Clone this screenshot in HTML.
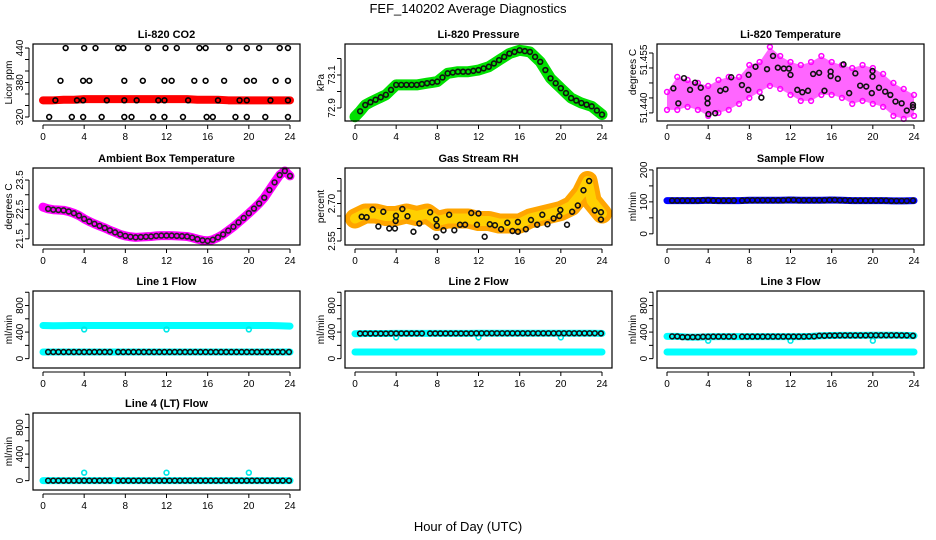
<!DOCTYPE html>
<html><head><meta charset="utf-8">
<style>
html,body{margin:0;padding:0;background:#fff;}
svg{display:block;font-family:"Liberation Sans",Arial,sans-serif;}
</style></head>
<body>
<svg id="chart" width="936" height="540" viewBox="0 0 936 540">
<text x="468" y="13" text-anchor="middle" font-size="13">FEF_140202  Average Diagnostics</text>
<text x="468" y="531" text-anchor="middle" font-size="13">Hour of Day (UTC)</text>
</svg>
<script>
// ---------- data ----------
const xTicks = [0,4,8,12,16,20,24];
// CO2
const co2Band = [349,349,350,350,351,351,351,351,351,351,351,351,351,351,351,350,350,350,349,349,349,349,349,349,349];
const co2T440 = [2.2,4,5.1,7.3,7.8,10.2,11.9,13,15.2,15.8,18.1,19.8,21,23,23.8];
const co2T383 = [1.7,3.9,4.5,7.9,9.7,11.8,12.5,14.7,15.8,17.6,19.8,20.5,22.6,23.8];
const co2T349 = [1.2,3.3,3.9,6.2,7.9,9.1,11.2,11.8,14.1,17,19.1,19.8,22.1,23.8];
const co2T320 = [0.6,2.8,3.9,5.7,7.9,8.6,10.7,11.8,13.6,15.9,16.5,18.7,19.8,21.6,23.8];
// Pressure (half-hourly)
const pressure = [72.847,72.88,72.918,72.935,72.95,72.965,72.98,73.01,73.04,73.04,73.04,73.04,73.04,73.045,73.05,73.055,73.06,73.085,73.11,73.115,73.12,73.12,73.12,73.125,73.13,73.14,73.15,73.17,73.19,73.21,73.23,73.24,73.25,73.245,73.24,73.21,73.18,73.13,73.08,73.05,73.02,72.99,72.96,72.945,72.93,72.92,72.91,72.885,72.86];
// Li-820 temperature
const tempLo = [51.441,51.441,51.442,51.441,51.439,51.440,51.441,51.443,51.445,51.447,51.449,51.448,51.446,51.444,51.444,51.446,51.446,51.445,51.443,51.444,51.443,51.442,51.439,51.438,51.439];
const tempHi = [51.447,51.452,51.451,51.450,51.449,51.451,51.452,51.452,51.456,51.457,51.462,51.459,51.457,51.456,51.457,51.459,51.457,51.456,51.455,51.456,51.455,51.453,51.450,51.448,51.446];
const tempPtT = [0.62,1.1,1.65,2.24,2.73,3.28,3.94,3.94,4.03,4.68,5.17,5.69,6.24,7.28,7.93,7.9,8.6,9.17,9.72,10.3,10.77,11.35,11.85,12.0,12.66,13.15,13.7,14.2,14.78,15.3,15.9,15.9,16.6,17.15,17.7,18.3,18.77,19.36,19.9,19.97,19.97,20.6,21.2,21.7,22.2,22.8,23.3,23.9,23.9];
const tempPtV = [51.4482,51.4432,51.4516,51.4477,51.4501,51.4484,51.4449,51.4432,51.4396,51.4399,51.4474,51.4479,51.4519,51.4493,51.4527,51.4477,51.4554,51.4451,51.4546,51.4590,51.4551,51.4548,51.4548,51.4527,51.4477,51.4469,51.4474,51.4530,51.4534,51.4474,51.4523,51.4538,51.4514,51.4562,51.4466,51.4532,51.4491,51.4488,51.4466,51.4540,51.4521,51.4484,51.4471,51.4460,51.4438,51.4432,51.4408,51.4419,51.4427];
// Ambient box temperature (half-hourly)
const ambient = [22.58,22.52,22.49,22.48,22.47,22.43,22.37,22.29,22.18,22.09,22.01,21.94,21.87,21.79,21.72,21.65,21.60,21.57,21.55,21.56,21.57,21.58,21.60,21.61,21.61,21.61,21.60,21.59,21.58,21.54,21.49,21.45,21.43,21.47,21.55,21.65,21.78,21.91,22.06,22.21,22.37,22.53,22.70,22.90,23.16,23.42,23.67,23.81,23.64];
// Gas stream RH
const rhT = [0,1,2,3,4,5,6,7,8,9,10,11,12,13,14,15,16,17,18,19,20,21,22,22.6,23,24];
const rhMid = [2.64,2.66,2.66,2.65,2.65,2.66,2.65,2.66,2.63,2.64,2.64,2.64,2.63,2.63,2.62,2.62,2.62,2.64,2.65,2.66,2.67,2.69,2.74,2.79,2.71,2.66];
const rhPtT = [0.65,1.13,1.72,2.27,2.75,3.33,3.88,3.98,3.95,4.6,5.1,6.25,5.68,7.3,7.89,7.95,7.89,8.6,9.15,9.65,10.2,10.7,11.3,11.85,12.0,12.6,13.1,13.6,14.2,14.8,15.3,15.83,15.83,16.6,17.1,17.7,18.2,18.7,19.3,19.85,19.95,20.6,21.1,21.65,22.2,22.75,23.3,23.9,23.9];
const rhPtV = [2.647,2.645,2.676,2.608,2.667,2.60,2.60,2.651,2.63,2.678,2.649,2.62,2.587,2.665,2.636,2.611,2.566,2.593,2.655,2.593,2.615,2.615,2.662,2.615,2.66,2.567,2.617,2.613,2.597,2.623,2.590,2.626,2.587,2.597,2.634,2.615,2.655,2.617,2.640,2.65,2.674,2.615,2.667,2.692,2.753,2.790,2.672,2.665,2.636];
// Flows
const flowCircT = [0.5,1,1.5,2,2.5,3,3.5,4,4.5,5,5.5,6,6.5,7.3,7.8,8.3,8.8,9.3,9.8,10.3,10.8,11.3,11.8,12.3,12.8,13.3,13.8,14.3,14.8,15.3,15.8,16.3,16.8,17.3,17.8,18.3,18.8,19.3,19.8,20.3,20.8,21.3,21.8,22.3,22.8,23.3,23.9];
const sampleFlow = [104,104,104,104,105,104,104,104,105,105,105,105,106,105,105,105,106,105,104,104,104,104,103,103,104];
const line1Hi = [500,495,498,500,500,500,500,500,500,500,500,500,500,500,500,500,500,500,500,500,500,500,500,495,490];
const line1Lo = [100,100,100,100,100,100,100,100,100,100,100,100,100,100,100,100,100,100,100,100,100,100,100,100,100];
const line2Hi = [375,378,378,378,380,380,380,380,380,380,380,380,382,382,382,382,382,382,382,382,382,382,382,382,380];
const line2Lo = [100,100,100,100,100,100,100,100,100,100,100,100,100,100,100,100,100,100,100,100,100,100,100,100,100];
const line3Hi = [335,335,325,325,330,332,332,332,332,332,332,332,332,332,335,345,348,350,350,350,352,352,352,350,345];
const line3Lo = [100,100,100,100,100,100,100,100,100,100,100,100,100,100,100,100,100,100,100,100,100,100,100,100,100];
const line4 = [0,0,0,0,0,0,0,0,0,0,0,0,0,0,0,0,0,0,0,0,0,0,0,0,0];
const dipT = [4,12,20];
const line1Dip = [440,440,440];
const line2Dip = [320,320,320];
const line3Dip = [270,270,270];
const line4Dip = [120,120,120];

// ---------- layout ----------
const NS = "http://www.w3.org/2000/svg";
const svg = document.getElementById('chart');
const colLeft = [33,345,657], boxW = 267, rowTop = [44,168,291,413], boxH = 77;

function mk(tag, parent){ const e = document.createElementNS(NS, tag); parent.appendChild(e); return e; }

function panel(col, row, name, title, ylab, ymin, ymax, ticks, labels, ylabY){
  const L = colLeft[col], T = rowTop[row], R = L + boxW, B = T + boxH;
  const g = mk('g', svg);
  
  
  const sx = h => L + 10 + h * (boxW - 20) / 24;
  const sy = v => B - (v - ymin) / (ymax - ymin) * boxH;
  const data = mk('g', g);
  
  
  const box = mk('rect', g);
  box.setAttribute('x', L); box.setAttribute('y', T); box.setAttribute('width', boxW); box.setAttribute('height', boxH);
  box.setAttribute('fill', 'none'); box.setAttribute('stroke', '#000'); box.setAttribute('stroke-width', '1.2');
  
  
  const t = mk('text', g);
  t.textContent = title;
  t.setAttribute('x', (L + R) / 2); t.setAttribute('y', T - 6); t.setAttribute('text-anchor', 'middle');
  t.setAttribute('font-size', '11'); t.setAttribute('font-weight', 'bold');
  
  
  const yl = mk('text', g);
  yl.textContent = ylab;
  yl.setAttribute('transform', `translate(${L - 21},${ylabY || (T + B) / 2}) rotate(-90)`);
  yl.setAttribute('text-anchor', 'middle'); yl.setAttribute('font-size', '10');
  
  
  // x axis
  const xa = mk('g', g);
  
  
  const xl = mk('line', xa);
  xl.setAttribute('x1', sx(0)); xl.setAttribute('x2', sx(24)); xl.setAttribute('y1', B + 4); xl.setAttribute('y2', B + 4); xl.setAttribute('stroke', '#000');
  xTicks.forEach(h => {
    const tk = mk('line', xa);
    tk.setAttribute('x1', sx(h)); tk.setAttribute('x2', sx(h)); tk.setAttribute('y1', B + 4); tk.setAttribute('y2', B + 8); tk.setAttribute('stroke', '#000');
    const lb = mk('text', xa);
    lb.textContent = h;
    lb.setAttribute('x', sx(h)); lb.setAttribute('y', B + 19); lb.setAttribute('text-anchor', 'middle'); lb.setAttribute('font-size', '10');
    
    
  });
  // y axis
  const ya = mk('g', g);
  
  
  const yln = mk('line', ya);
  yln.setAttribute('x1', L - 4); yln.setAttribute('x2', L - 4); yln.setAttribute('y1', sy(ticks[0])); yln.setAttribute('y2', sy(ticks[ticks.length - 1])); yln.setAttribute('stroke', '#000');
  ticks.forEach(v => {
    const tk = mk('line', ya);
    tk.setAttribute('x1', L - 4); tk.setAttribute('x2', L - 8); tk.setAttribute('y1', sy(v)); tk.setAttribute('y2', sy(v)); tk.setAttribute('stroke', '#000');
  });
  labels.forEach(([v, s]) => {
    const lb = mk('text', ya);
    lb.textContent = s;
    lb.setAttribute('transform', `translate(${L - 10},${sy(v)}) rotate(-90)`);
    lb.setAttribute('text-anchor', 'middle'); lb.setAttribute('font-size', '10');
    
    
  });
  return {sx, sy, g: data, L, R, T, B};
}

function band(p, ts, vs, color, width, nm){
  const pl = mk('polyline', p.g);
  pl.setAttribute('points', ts.map((t, i) => p.sx(t) + ',' + p.sy(vs[i])).join(' '));
  pl.setAttribute('fill', 'none'); pl.setAttribute('stroke', color); pl.setAttribute('stroke-width', width);
  pl.setAttribute('stroke-linecap', 'round'); pl.setAttribute('stroke-linejoin', 'round');
  
  
}
function circles(p, ts, vs, color, nm, r, sw){
  ts.forEach((t, i) => {
    const c = mk('circle', p.g);
    c.setAttribute('cx', p.sx(t)); c.setAttribute('cy', p.sy(vs[i]));
    c.setAttribute('r', r || 2.4); c.setAttribute('fill', 'none'); c.setAttribute('stroke', color); c.setAttribute('stroke-width', sw || 1.6);
    
    
  });
}
const hours = Array.from({length: 25}, (_, i) => i);
const halfHours = Array.from({length: 49}, (_, i) => i * 0.5);
const fill = (arr, v) => arr.map(() => v);
const atHour = (arr, ts) => ts.map(t => arr[Math.round(t)]);

// ---- CO2
let p = panel(0, 0, 'co2', 'Li-820 CO2', 'Licor ppm', 313, 447, [320,340,360,380,400,420,440], [[320,'320'],[380,'380'],[440,'440']]);
band(p, hours, co2Band, '#ff0000', 8, 'co2-band');
circles(p, co2T440, fill(co2T440, 440), '#000', 'co2-point');
circles(p, co2T383, fill(co2T383, 383), '#000', 'co2-point');
circles(p, co2T349, fill(co2T349, 349), '#000', 'co2-point');
circles(p, co2T320, fill(co2T320, 320), '#000', 'co2-point');

// ---- Pressure
p = panel(1, 0, 'pressure', 'Li-820 Pressure', 'kPa', 72.821, 73.288, [72.9,73.0,73.1,73.2], [[72.9,'72.9'],[73.1,'73.1']]);
band(p, halfHours, pressure, '#00e000', 11, 'pressure-band');
circles(p, halfHours.slice(1), pressure.slice(1), '#111', 'pressure-point');

// ---- Li-820 Temperature
p = panel(2, 0, 'li820-temp', 'Li-820 Temperature', 'degrees C', 51.4373, 51.463, [51.440,51.445,51.450,51.455,51.460], [[51.4417,'51.440'],[51.4577,'51.455']], 72);
{
  const poly = mk('polygon', p.g);
  poly.setAttribute('points', hours.map((h, i) => p.sx(h) + ',' + p.sy(tempHi[i])).concat(hours.slice().reverse().map(h => p.sx(h) + ',' + p.sy(tempLo[h]))).join(' '));
  poly.setAttribute('fill', '#ff00ff'); poly.setAttribute('fill-opacity', '0.6');
  
  
}
circles(p, hours, tempHi, '#ff00ff', 'temperature-magenta-point', 2.4, 1.5);
circles(p, hours, tempLo, '#ff00ff', 'temperature-magenta-point', 2.4, 1.5);
circles(p, tempPtT, tempPtV, '#111', 'temperature-point');

// ---- Ambient
p = panel(0, 1, 'ambient', 'Ambient Box Temperature', 'degrees C', 21.29, 23.91, [21.5,22,22.5,23,23.5], [[21.5,'21.5'],[22.5,'22.5'],[23.5,'23.5']]);
band(p, halfHours, ambient, '#ff00ff', 9, 'ambient-band');
circles(p, halfHours.slice(1), ambient.slice(1), '#222', 'ambient-point');

// ---- Gas stream RH
p = panel(1, 1, 'gas-rh', 'Gas Stream RH', 'percent', 2.534, 2.842, [2.55,2.60,2.65,2.70,2.75,2.80], [[2.55,'2.55'],[2.70,'2.70']]);
band(p, rhT, rhMid, '#ffa500', 20, 'rh-band');
band(p, rhT, rhMid, '#ffd000', 10, 'rh-band-core');
circles(p, rhPtT, rhPtV, '#111', 'rh-point');

// ---- Sample flow
p = panel(2, 1, 'sample-flow', 'Sample Flow', 'ml/min', -35, 206, [0,50,100,150,200], [[0,'0'],[100,'100'],[200,'200']]);
band(p, hours, sampleFlow, '#0000ff', 7, 'sample-flow-band');
circles(p, flowCircT, atHour(sampleFlow, flowCircT), '#111', 'sample-flow-point');

const flowTicks = [0,200,400,600,800,1000], flowLabels = [[0,'0'],[400,'400'],[800,'800']];
// ---- Line 1
p = panel(0, 2, 'line1', 'Line 1 Flow', 'ml/min', -141, 1019, flowTicks, flowLabels);
band(p, hours, line1Hi, '#00ffff', 7, 'line1-upper-band');
band(p, hours, line1Lo, '#00ffff', 7, 'line1-lower-band');
circles(p, dipT, line1Dip, '#00e8e8', 'line1-dip-point');
circles(p, flowCircT, atHour(line1Lo, flowCircT), '#111', 'line1-point');

// ---- Line 2
p = panel(1, 2, 'line2', 'Line 2 Flow', 'ml/min', -141, 1019, flowTicks, flowLabels);
band(p, hours, line2Hi, '#00ffff', 7, 'line2-upper-band');
band(p, hours, line2Lo, '#00ffff', 7, 'line2-lower-band');
circles(p, dipT, line2Dip, '#00e8e8', 'line2-dip-point');
circles(p, flowCircT, atHour(line2Hi, flowCircT), '#111', 'line2-point');

// ---- Line 3
p = panel(2, 2, 'line3', 'Line 3 Flow', 'ml/min', -141, 1019, flowTicks, flowLabels);
band(p, hours, line3Hi, '#00ffff', 7, 'line3-upper-band');
band(p, hours, line3Lo, '#00ffff', 7, 'line3-lower-band');
circles(p, dipT, line3Dip, '#00e8e8', 'line3-dip-point');
circles(p, flowCircT, atHour(line3Hi, flowCircT), '#111', 'line3-point');

// ---- Line 4
p = panel(0, 3, 'line4', 'Line 4 (LT) Flow', 'ml/min', -141, 1019, flowTicks, flowLabels);
band(p, hours, line4, '#00ffff', 7, 'line4-band');
circles(p, dipT, line4Dip, '#00e8e8', 'line4-dip-point');
circles(p, flowCircT, atHour(line4, flowCircT), '#111', 'line4-point');
</script>
</body></html>
